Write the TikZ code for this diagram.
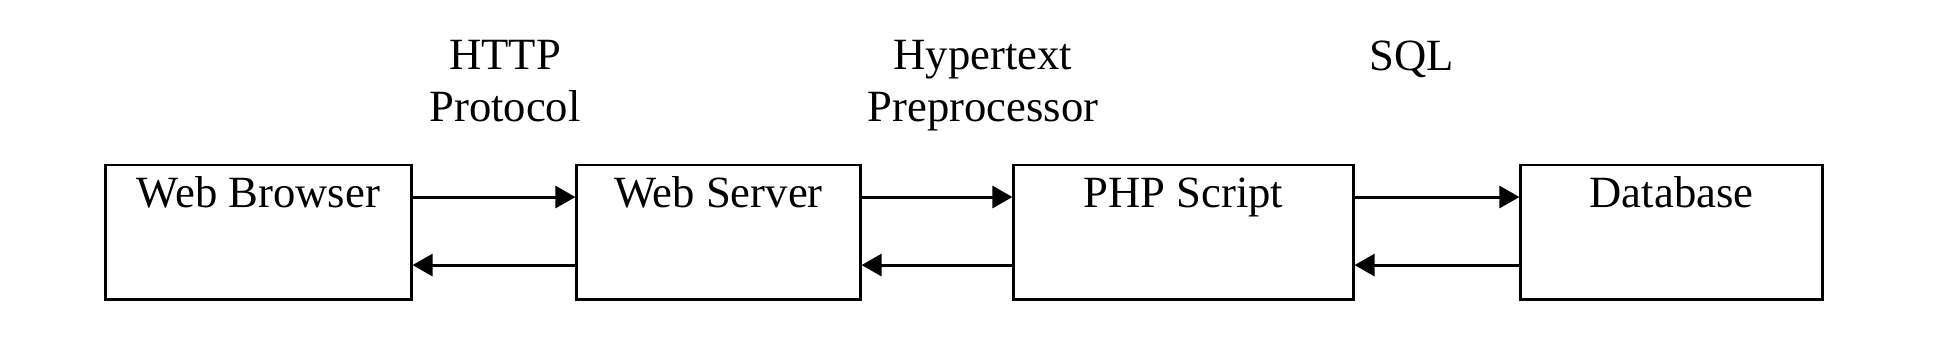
\documentclass[tikz,border=0pt]{standalone}
\usepackage{fontspec}
\setmainfont{Liberation Serif}
\usetikzlibrary{arrows.meta,positioning}
\tikzset{
	box/.style={draw, line width=0.85pt, rectangle, anchor=north, inner xsep=0pt, inner ysep=0pt,
		text height=0.42cm, text depth=0.92cm},
	flow/.style={line width=0.85pt, -{Triangle[length=0.2cm, width=0.22cm]}},
	lbl/.style={align=center, inner sep=0pt, anchor=north}
}
\begin{document}
\begin{tikzpicture}[x=0.01cm, y=-0.01cm, font=\fontsize{12.7}{14.8}\selectfont, line join=miter]
			\useasboundingbox (0,0) rectangle (1951,345);
			\foreach \x/\w/\t/\n in {258.5/3.05cm/Web Browser/wb,718.5/2.83cm/Web Server/ws,1183.5/3.39cm/PHP Script/php,1671.5/3.01cm/Database/db}
			\node[box, minimum width=\w] (\n) at (\x,163.5) {\t};
			\foreach \a/\b in {wb/ws,ws/php,php/db}{
				\draw[flow] ([yshift=-0.335cm]\a.north east)--([yshift=-0.335cm]\b.north west);
				\draw[flow] ([yshift=-1.015cm]\b.north west)--([yshift=-1.015cm]\a.north east);
			}
			\node[lbl] (http) at (505,40) {HTTP\\Protocol};
			\node[lbl] (php-lbl) at (983,40) {Hypertext\\Preprocessor};
			\node[lbl] (sql) at (1412,40) {SQL};
		\end{tikzpicture}
\end{document}
